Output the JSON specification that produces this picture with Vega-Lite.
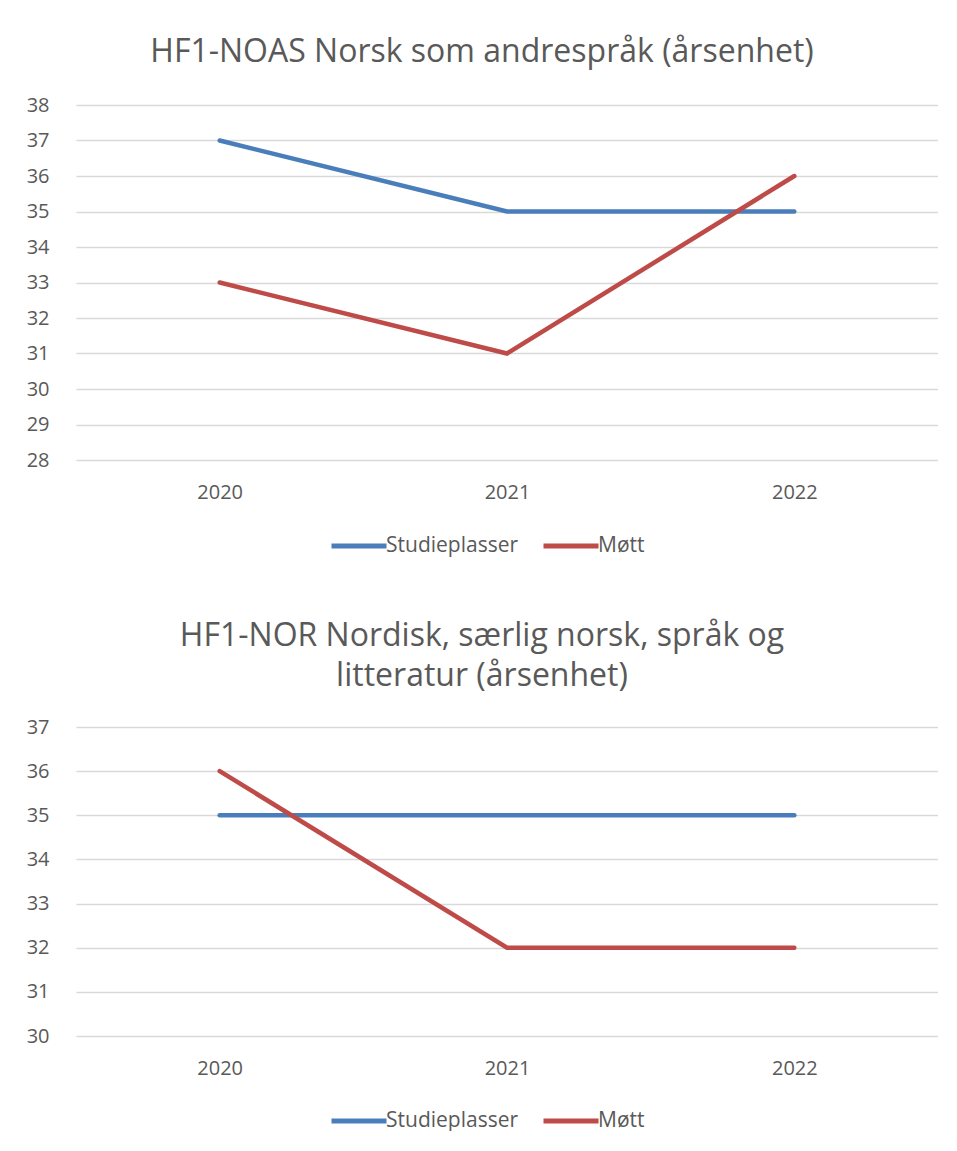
{
  "$schema": "https://vega.github.io/schema/vega-lite/v6.json",
  "padding": {"left": 26, "top": 36, "right": 0, "bottom": 0},
  "autosize": {"type": "pad"},
  "background": "white",
  "config": {
    "font": "Open Sans",
    "view": {"stroke": null},
    "axis": {"domain": false, "ticks": false, "labelFont": "Open Sans", "labelFontSize": 20, "labelColor": "#595959", "title": null},
    "title": {"font": "Open Sans", "fontSize": 32, "fontWeight": "normal", "color": "#595959", "anchor": "middle", "frame": "bounds"},
    "legend": {"labelFont": "Open Sans", "labelFontSize": 21, "labelColor": "#595959"},
    "concat": {"spacing": 64}
  },
  "data": {"values": [
    {"chart": "A", "year": "2020", "series": "Studieplasser", "value": 37},
    {"chart": "A", "year": "2021", "series": "Studieplasser", "value": 35},
    {"chart": "A", "year": "2022", "series": "Studieplasser", "value": 35},
    {"chart": "A", "year": "2020", "series": "Møtt", "value": 33},
    {"chart": "A", "year": "2021", "series": "Møtt", "value": 31},
    {"chart": "A", "year": "2022", "series": "Møtt", "value": 36},
    {"chart": "B", "year": "2020", "series": "Studieplasser", "value": 35},
    {"chart": "B", "year": "2021", "series": "Studieplasser", "value": 35},
    {"chart": "B", "year": "2022", "series": "Studieplasser", "value": 35},
    {"chart": "B", "year": "2020", "series": "Møtt", "value": 36},
    {"chart": "B", "year": "2021", "series": "Møtt", "value": 32},
    {"chart": "B", "year": "2022", "series": "Møtt", "value": 32}
  ]},
  "vconcat": [
    {
      "title": {"text": "HF1-NOAS Norsk som andrespråk (årsenhet)", "offset": 26},
      "width": 862,
      "height": 355,
      "transform": [{"filter": "datum.chart === 'A'"}],
      "mark": {"type": "line", "strokeWidth": 4.5, "strokeCap": "round"},
      "encoding": {
        "x": {"field": "year", "type": "ordinal", "scale": {"type": "point", "padding": 0.5},
              "axis": {"labelAngle": 0, "labelPadding": 22, "grid": false}},
        "y": {"field": "value", "type": "quantitative", "scale": {"domain": [28, 38], "nice": false, "zero": false},
              "axis": {"values": [28,29,30,31,32,33,34,35,36,37,38], "grid": true, "gridColor": "#D9D9D9", "gridWidth": 1.5, "labelPadding": 27, "minExtent": 50, "maxExtent": 50}},
        "color": {"field": "series", "type": "nominal",
                  "scale": {"domain": ["Studieplasser", "Møtt"], "range": ["#4A7EBB", "#BE4B48"]},
                  "legend": {"orient": "none", "legendX": 253, "legendY": 411, "direction": "horizontal", "title": null, "symbolType": "stroke", "symbolSize": 3025, "symbolStrokeWidth": 5, "labelOffset": -3, "columnPadding": 14}}
      }
    },
    {
      "title": {"text": ["HF1-NOR Nordisk, særlig norsk, språk og", "litteratur (årsenhet)"], "offset": 24, "lineHeight": 40},
      "width": 862,
      "height": 309,
      "transform": [{"filter": "datum.chart === 'B'"}],
      "mark": {"type": "line", "strokeWidth": 4.5, "strokeCap": "round"},
      "encoding": {
        "x": {"field": "year", "type": "ordinal", "scale": {"type": "point", "padding": 0.5},
              "axis": {"labelAngle": 0, "labelPadding": 22, "grid": false}},
        "y": {"field": "value", "type": "quantitative", "scale": {"domain": [30, 37], "nice": false, "zero": false},
              "axis": {"values": [30,31,32,33,34,35,36,37], "grid": true, "gridColor": "#D9D9D9", "gridWidth": 1.5, "labelPadding": 27, "minExtent": 50, "maxExtent": 50}},
        "color": {"field": "series", "type": "nominal",
                  "scale": {"domain": ["Studieplasser", "Møtt"], "range": ["#4A7EBB", "#BE4B48"]},
                  "legend": {"orient": "none", "legendX": 253, "legendY": 364, "direction": "horizontal", "title": null, "symbolType": "stroke", "symbolSize": 3025, "symbolStrokeWidth": 5, "labelOffset": -3, "columnPadding": 14}}
      }
    }
  ],
  "resolve": {"scale": {"y": "independent", "color": "independent"}, "legend": {"color": "independent"}}
}
